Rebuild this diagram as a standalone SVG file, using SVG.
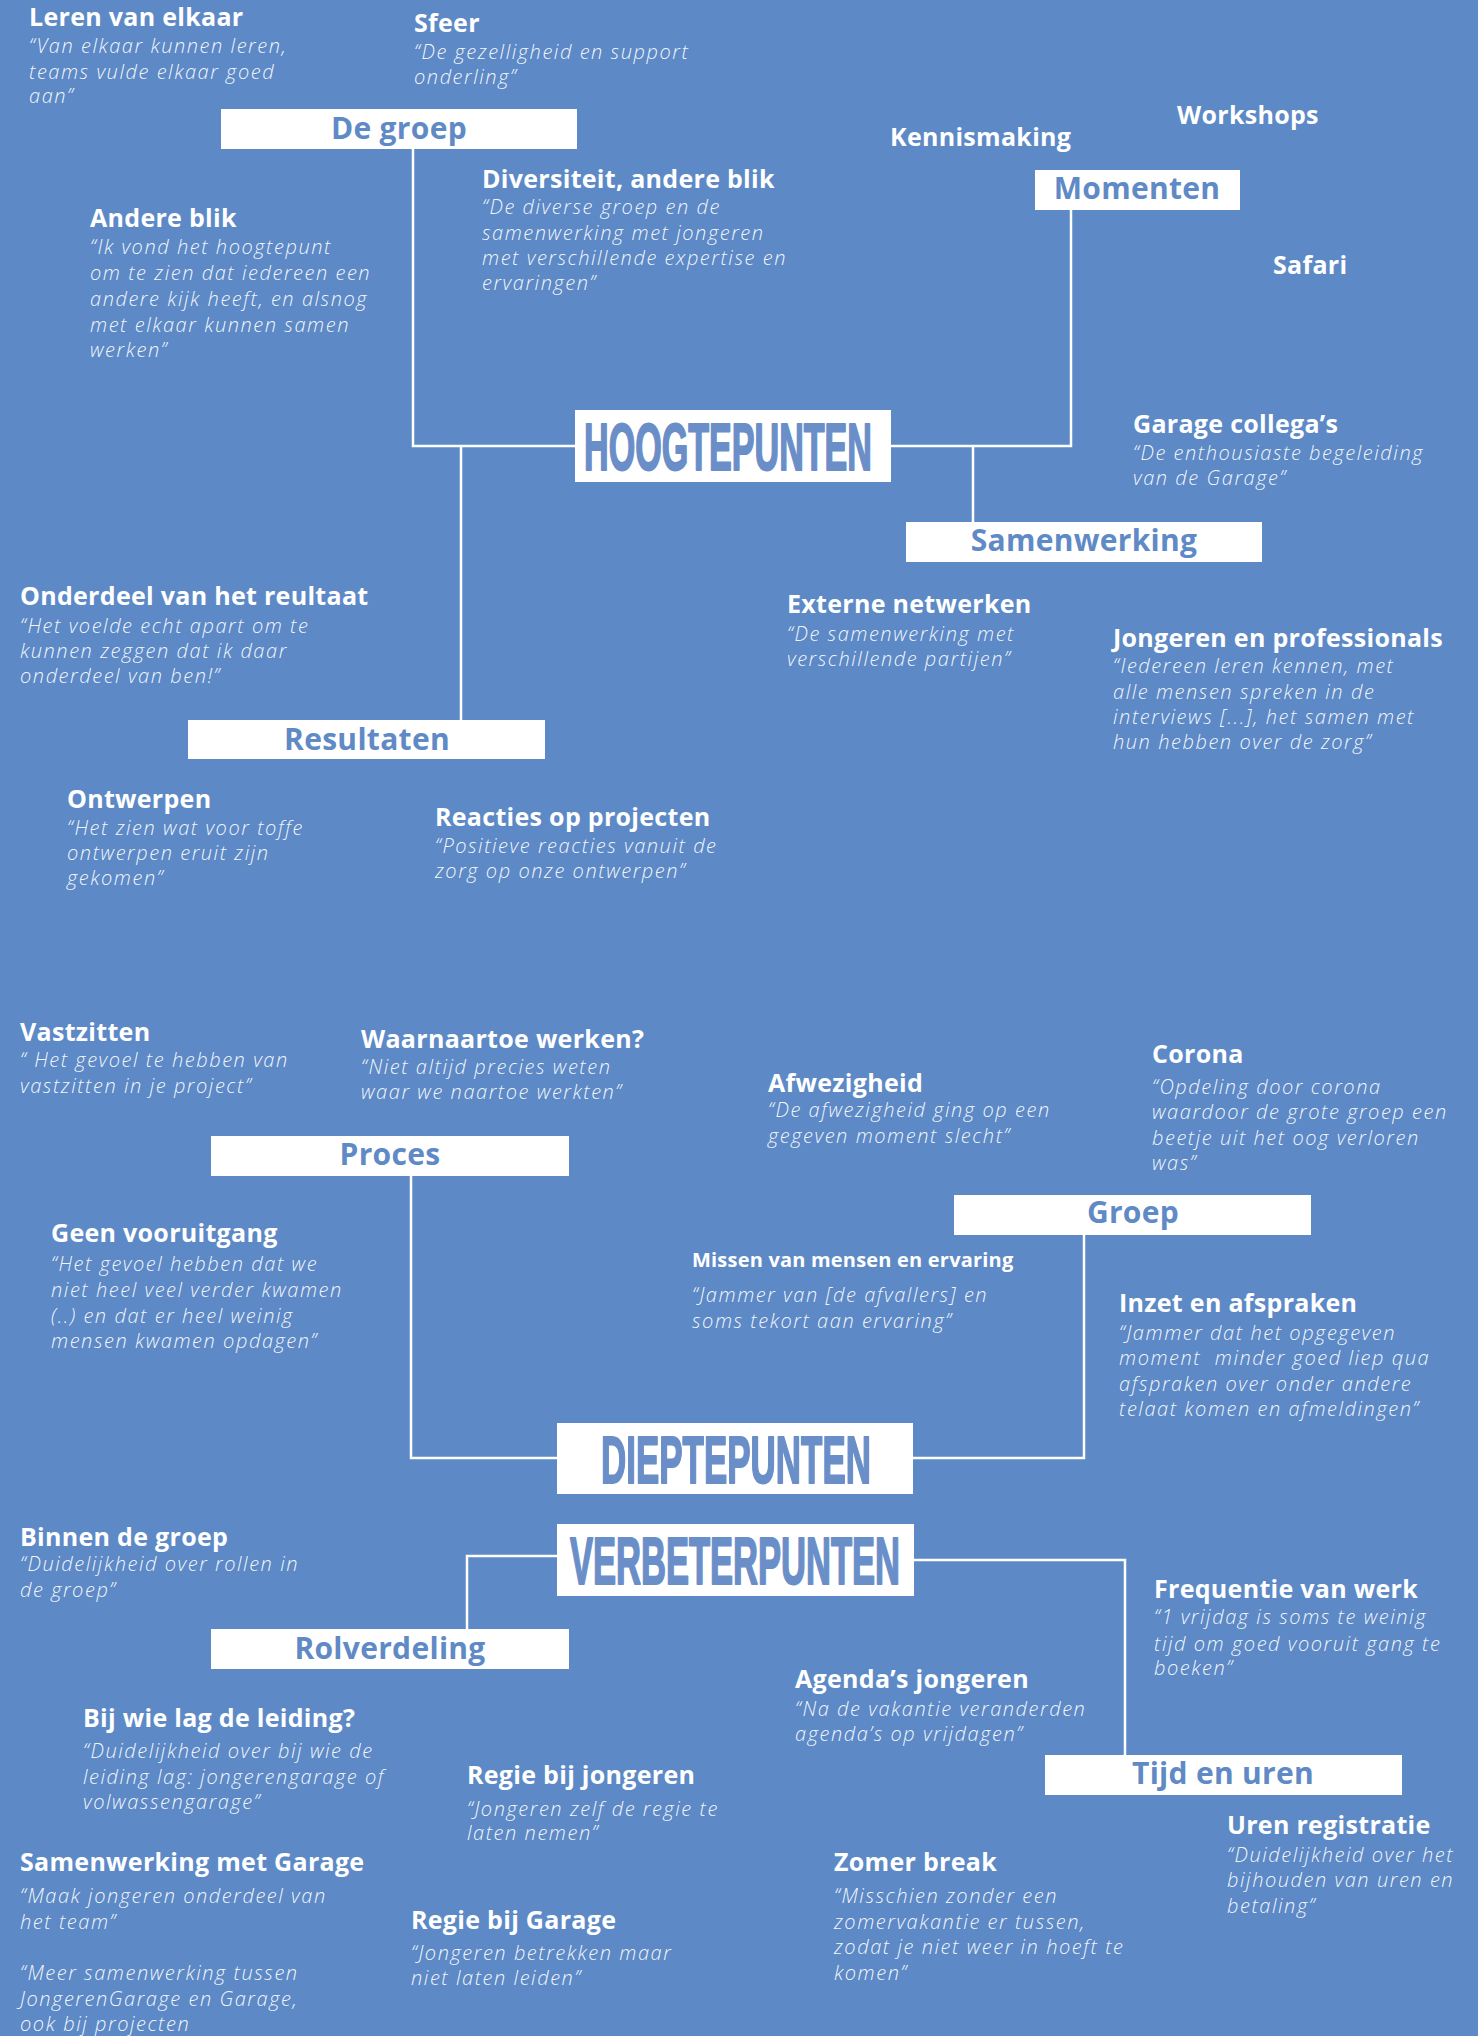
<svg xmlns="http://www.w3.org/2000/svg" width="1478" height="2036" viewBox="0 0 1478 2036">
<style>
.t{font-family:"Open Sans","Noto Sans","Liberation Sans",sans-serif;font-weight:700;font-size:25px;letter-spacing:0.3px;fill:#ffffff}
.ts{font-family:"Open Sans","Noto Sans","Liberation Sans",sans-serif;font-weight:700;font-size:20px;letter-spacing:0.2px;fill:#ffffff}
.q{font-family:"Open Sans","Noto Sans","Liberation Sans",sans-serif;font-style:italic;font-weight:300;font-size:20px;letter-spacing:1.55px;fill:#ffffff;fill-opacity:0.93}
.box{fill:#ffffff}
.bt{font-family:"Open Sans","Noto Sans","Liberation Sans",sans-serif;font-weight:700;font-size:30px;letter-spacing:0.3px;fill:#5f8ac6;text-anchor:middle}
.mt{font-family:"Liberation Sans","DejaVu Sans",sans-serif;font-weight:700;font-size:66px;fill:#6a8ec8;stroke:#6a8ec8;stroke-width:2;stroke-linejoin:round}
.ln{stroke:#ffffff;stroke-width:2.5;fill:none}
</style>
<rect x="0" y="0" width="1478" height="2036" fill="#5d8ac6"/>

<g id="connectors">
<path class="ln" d="M413 149 V446 H575"/>
<path class="ln" d="M461 446 V720"/>
<path class="ln" d="M891 446 H1071 V210"/>
<path class="ln" d="M973 446 V522"/>
<path class="ln" d="M411 1176 V1458 H557"/>
<path class="ln" d="M913 1458 H1084 V1235"/>
<path class="ln" d="M557 1556 H467 V1629"/>
<path class="ln" d="M914 1560 H1125 V1755"/>
</g>

<g id="hoogtepunten">
<rect class="box" x="575" y="410" width="316" height="72"/>
<text class="mt" x="584" y="470" textLength="288" lengthAdjust="spacingAndGlyphs">HOOGTEPUNTEN</text>
</g>
<g id="de-groep">
<rect class="box" x="221" y="109" width="356" height="40"/>
<text class="bt" x="399" y="139">De groep</text>
</g>
<g id="momenten">
<rect class="box" x="1035" y="170" width="205" height="40"/>
<text class="bt" x="1137" y="199">Momenten</text>
</g>
<g id="samenwerking">
<rect class="box" x="906" y="522" width="356" height="40"/>
<text class="bt" x="1084" y="551">Samenwerking</text>
</g>
<g id="resultaten">
<rect class="box" x="188" y="720" width="357" height="39"/>
<text class="bt" x="367" y="750">Resultaten</text>
</g>

<g id="leren-van-elkaar">
<text class="t" x="29" y="26">Leren van elkaar</text>
<text class="q" x="29" y="53">“Van elkaar kunnen leren,</text>
<text class="q" x="29" y="78.5">teams vulde elkaar goed</text>
<text class="q" x="29" y="103">aan”</text>
</g>
<g id="sfeer">
<text class="t" x="414" y="32">Sfeer</text>
<text class="q" x="414" y="59">“De gezelligheid en support</text>
<text class="q" x="414" y="84">onderling”</text>
</g>
<g id="andere-blik">
<text class="t" x="90" y="227">Andere blik</text>
<text class="q" x="90" y="254">“Ik vond het hoogtepunt</text>
<text class="q" x="90" y="280">om te zien dat iedereen een</text>
<text class="q" x="90" y="306">andere kijk heeft, en alsnog</text>
<text class="q" x="90" y="332">met elkaar kunnen samen</text>
<text class="q" x="90" y="357">werken”</text>
</g>
<g id="diversiteit">
<text class="t" x="482" y="188">Diversiteit, andere blik</text>
<text class="q" x="482" y="214">“De diverse groep en de</text>
<text class="q" x="482" y="240">samenwerking met jongeren</text>
<text class="q" x="482" y="265">met verschillende expertise en</text>
<text class="q" x="482" y="290">ervaringen”</text>
</g>
<g id="kennismaking"><text class="t" x="890" y="146">Kennismaking</text></g>
<g id="workshops"><text class="t" x="1177" y="124">Workshops</text></g>
<g id="safari"><text class="t" x="1273" y="274">Safari</text></g>
<g id="garage-collegas">
<text class="t" x="1133" y="433">Garage collega’s</text>
<text class="q" x="1133" y="460">“De enthousiaste begeleiding</text>
<text class="q" x="1133" y="485">van de Garage”</text>
</g>
<g id="onderdeel">
<text class="t" x="20" y="605">Onderdeel van het reultaat</text>
<text class="q" x="20" y="633">“Het voelde echt apart om te</text>
<text class="q" x="20" y="658">kunnen zeggen dat ik daar</text>
<text class="q" x="20" y="683">onderdeel van ben!”</text>
</g>
<g id="ontwerpen">
<text class="t" x="67" y="808">Ontwerpen</text>
<text class="q" x="67" y="835">“Het zien wat voor toffe</text>
<text class="q" x="67" y="860">ontwerpen eruit zijn</text>
<text class="q" x="67" y="885">gekomen”</text>
</g>
<g id="reacties">
<text class="t" x="435" y="826">Reacties op projecten</text>
<text class="q" x="435" y="853">“Positieve reacties vanuit de</text>
<text class="q" x="435" y="878">zorg op onze ontwerpen”</text>
</g>
<g id="externe-netwerken">
<text class="t" x="787" y="613">Externe netwerken</text>
<text class="q" x="787" y="641">“De samenwerking met</text>
<text class="q" x="787" y="666">verschillende partijen”</text>
</g>
<g id="jongeren-professionals">
<text class="t" x="1113" y="647">Jongeren en professionals</text>
<text class="q" x="1113" y="673">“Iedereen leren kennen, met</text>
<text class="q" x="1113" y="699">alle mensen spreken in de</text>
<text class="q" x="1113" y="724">interviews [...], het samen met</text>
<text class="q" x="1113" y="749">hun hebben over de zorg”</text>
</g>

<g id="dieptepunten">
<rect class="box" x="557" y="1423" width="356" height="71"/>
<text class="mt" x="601" y="1483" textLength="270" lengthAdjust="spacingAndGlyphs">DIEPTEPUNTEN</text>
</g>
<g id="verbeterpunten">
<rect class="box" x="557" y="1524" width="357" height="72"/>
<text class="mt" x="570" y="1584" textLength="330" lengthAdjust="spacingAndGlyphs">VERBETERPUNTEN</text>
</g>
<g id="proces">
<rect class="box" x="211" y="1136" width="358" height="40"/>
<text class="bt" x="390" y="1165">Proces</text>
</g>
<g id="groep">
<rect class="box" x="954" y="1195" width="357" height="40"/>
<text class="bt" x="1133" y="1223">Groep</text>
</g>
<g id="rolverdeling">
<rect class="box" x="211" y="1629" width="358" height="40"/>
<text class="bt" x="390" y="1659">Rolverdeling</text>
</g>
<g id="tijd-en-uren">
<rect class="box" x="1045" y="1755" width="357" height="40"/>
<text class="bt" x="1223" y="1784">Tijd en uren</text>
</g>

<g id="vastzitten">
<text class="t" x="20" y="1041">Vastzitten</text>
<text class="q" x="20" y="1067">“ Het gevoel te hebben van</text>
<text class="q" x="20" y="1093">vastzitten in je project”</text>
</g>
<g id="waarnaartoe">
<text class="t" x="361" y="1048">Waarnaartoe werken?</text>
<text class="q" x="361" y="1074">“Niet altijd precies weten</text>
<text class="q" x="361" y="1099">waar we naartoe werkten”</text>
</g>
<g id="geen-vooruitgang">
<text class="t" x="51" y="1242">Geen vooruitgang</text>
<text class="q" x="51" y="1271">“Het gevoel hebben dat we</text>
<text class="q" x="51" y="1297">niet heel veel verder kwamen</text>
<text class="q" x="51" y="1323">(..) en dat er heel weinig</text>
<text class="q" x="51" y="1348">mensen kwamen opdagen”</text>
</g>
<g id="missen">
<text class="ts" x="692" y="1267">Missen van mensen en ervaring</text>
<text class="q" x="692" y="1302">“Jammer van [de afvallers] en</text>
<text class="q" x="692" y="1328">soms tekort aan ervaring”</text>
</g>
<g id="afwezigheid">
<text class="t" x="768" y="1092">Afwezigheid</text>
<text class="q" x="768" y="1117">“De afwezigheid ging op een</text>
<text class="q" x="768" y="1143">gegeven moment slecht”</text>
</g>
<g id="corona">
<text class="t" x="1152" y="1063">Corona</text>
<text class="q" x="1152" y="1094">“Opdeling door corona</text>
<text class="q" x="1152" y="1119">waardoor de grote groep een</text>
<text class="q" x="1152" y="1145">beetje uit het oog verloren</text>
<text class="q" x="1152" y="1170">was”</text>
</g>
<g id="inzet">
<text class="t" x="1119" y="1312">Inzet en afspraken</text>
<text class="q" x="1119" y="1340">“Jammer dat het opgegeven</text>
<text class="q" x="1119" y="1365" xml:space="preserve">moment  minder goed liep qua</text>
<text class="q" x="1119" y="1391">afspraken over onder andere</text>
<text class="q" x="1119" y="1416">telaat komen en afmeldingen”</text>
</g>
<g id="binnen-de-groep">
<text class="t" x="20" y="1546">Binnen de groep</text>
<text class="q" x="20" y="1571">“Duidelijkheid over rollen in</text>
<text class="q" x="20" y="1597">de groep”</text>
</g>
<g id="bij-wie">
<text class="t" x="83" y="1727">Bij wie lag de leiding?</text>
<text class="q" x="83" y="1758">“Duidelijkheid over bij wie de</text>
<text class="q" x="83" y="1784">leiding lag: jongerengarage of</text>
<text class="q" x="83" y="1809">volwassengarage”</text>
</g>
<g id="regie-jongeren">
<text class="t" x="467" y="1784">Regie bij jongeren</text>
<text class="q" x="467" y="1816">“Jongeren zelf de regie te</text>
<text class="q" x="467" y="1840">laten nemen”</text>
</g>
<g id="samenwerking-garage">
<text class="t" x="20" y="1871">Samenwerking met Garage</text>
<text class="q" x="20" y="1903">“Maak jongeren onderdeel van</text>
<text class="q" x="20" y="1929">het team”</text>
<text class="q" x="20" y="1980">“Meer samenwerking tussen</text>
<text class="q" x="20" y="2006">JongerenGarage en Garage,</text>
<text class="q" x="20" y="2031">ook bij projecten</text>
</g>
<g id="regie-garage">
<text class="t" x="411" y="1929">Regie bij Garage</text>
<text class="q" x="411" y="1960">“Jongeren betrekken maar</text>
<text class="q" x="411" y="1985">niet laten leiden”</text>
</g>
<g id="frequentie">
<text class="t" x="1154" y="1598">Frequentie van werk</text>
<text class="q" x="1154" y="1624">“1 vrijdag is soms te weinig</text>
<text class="q" x="1154" y="1651">tijd om goed vooruit gang te</text>
<text class="q" x="1154" y="1675">boeken”</text>
</g>
<g id="agendas">
<text class="t" x="795" y="1688">Agenda’s jongeren</text>
<text class="q" x="795" y="1716">“Na de vakantie veranderden</text>
<text class="q" x="795" y="1741">agenda’s op vrijdagen”</text>
</g>
<g id="uren-registratie">
<text class="t" x="1227" y="1834">Uren registratie</text>
<text class="q" x="1227" y="1862">“Duidelijkheid over het</text>
<text class="q" x="1227" y="1887">bijhouden van uren en</text>
<text class="q" x="1227" y="1913">betaling”</text>
</g>
<g id="zomer-break">
<text class="t" x="834" y="1871">Zomer break</text>
<text class="q" x="834" y="1903">“Misschien zonder een</text>
<text class="q" x="834" y="1929">zomervakantie er tussen,</text>
<text class="q" x="834" y="1954">zodat je niet weer in hoeft te</text>
<text class="q" x="834" y="1980">komen”</text>
</g>
</svg>
